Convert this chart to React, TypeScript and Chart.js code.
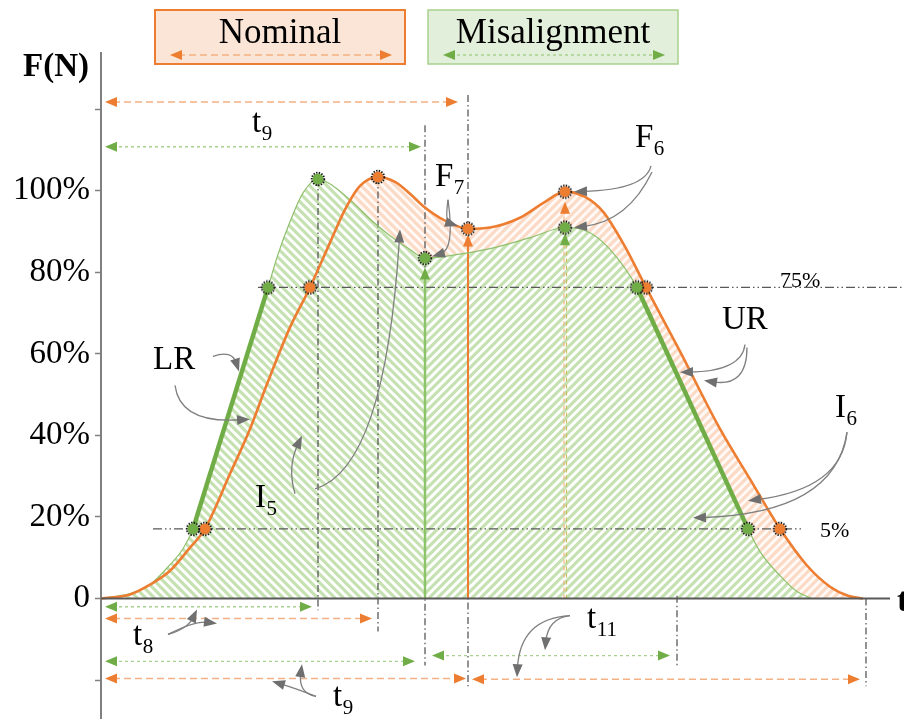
import React, { useEffect, useRef } from 'react';
import { Chart, registerables } from 'chart.js';

Chart.register(...registerables);

const SERIF = '"Liberation Serif", "Times New Roman", Times, serif';

// ---------------- data ----------------
const seriesNames = ['Nominal', 'Misalignment'];

// Nominal force curve: time (ms, arbitrary) and force (% of max)
const nominalTime = [0, 29, 49, 69, 89, 104, 129, 149, 166, 189, 209, 229, 244, 259, 277, 294, 309, 322, 344, 367, 389, 419, 444, 464, 484, 502, 524, 545, 579, 619, 649, 679, 706, 729, 747, 762];
const nominalForce = [0, 1.0, 3.4, 6.8, 12.5, 17.1, 30.6, 41.6, 52.6, 66.5, 76.3, 87.3, 95.4, 101.2, 103.4, 102.2, 99.3, 96.3, 92.7, 90.7, 91.0, 93.4, 97.3, 99.8, 98.5, 94.9, 86.3, 76.3, 60.6, 41.6, 29.3, 17.1, 8.1, 2.9, 0.7, 0];

// Misalignment force curve
const misTime = [0, 29, 49, 69, 82, 92, 129.5, 167, 177, 189, 202, 217, 232, 252, 272, 289, 309, 324, 349, 389, 429, 464, 489, 512, 536, 591.5, 647, 659, 679, 696, 711];
const misForce = [0, 1.2, 3.4, 8.3, 12.2, 17.1, 46.7, 76.3, 84.4, 92.4, 99.5, 102.9, 101.2, 97.1, 92.4, 89.0, 85.6, 83.5, 84.1, 85.8, 88.5, 91.0, 89.7, 84.8, 76.3, 46.7, 17.1, 11.5, 5.6, 1.7, 0];

// characteristic points
const nomPointTime = [104, 209, 277, 367, 464, 545, 679];
const nomPointForce = [17.1, 76.3, 103.4, 90.7, 99.8, 76.3, 17.1];
const misPointTime = [92, 167, 217, 324, 464, 536, 647];
const misPointForce = [17.1, 76.3, 102.9, 83.5, 91.0, 76.3, 17.1];

// loading ramp (LR) and unloading ramp (UR) of the misalignment curve
const lrTime = [92, 167];
const lrForce = [17.1, 76.3];
const urTime = [536, 647];
const urForce = [76.3, 17.1];

// hatch direction change (time)
const misHatchSplit = 324;
const nomHatchSplit = 367;

// y axis
const yTickValues = [0, 20, 40, 60, 80, 100];
const yTickLabels = ['0', '20%', '40%', '60%', '80%', '100%'];

// guide lines (dash-dot verticals): time, top, bottom (%)
const guideT = [217, 277, 324, 367, 576, 765];
const guideTop = [102.9, 103.4, 116.1, 123.5, 0.7, 0];
const guideBottom = [-2.9, -8.1, -16.4, -21.5, -16.6, -21.5];

// level lines: value, start time, end time, label
const levelValue = [76.3, 17.1];
const levelFrom = [157, 52];
const levelTo = [803, 702];
const levelLabel = ['75%', '5%'];
const levelLabelT = [679, 719];
const levelLabelV = [76.5, 15.2];

// dimension arrows: series (0 nominal, 1 misalignment), from, to, level
const dimSeries = [0, 1, 1, 0, 1, 0, 1, 0];
const dimFrom = [4, 4, 4, 4, 4, 4, 331, 371];
const dimTo = [357, 320, 211, 271, 314, 365, 569, 759];
const dimLevel = [121.8, 110.8, -2.0, -4.9, -15.4, -19.6, -14.0, -19.8];

// labels with subscripts
const labelMain = ['t', 'F', 'F', 'LR', 'UR', 'I', 'I', 't', 't', 't'];
const labelSub = ['9', '7', '6', '', '', '6', '5', '8', '9', '11'];
const labelT = [151, 334, 534, 52, 621, 734, 154, 32, 232, 486];
const labelV = [114.4, 101.2, 110.8, 56.2, 66.0, 44.5, 22.5, -11.5, -26.4, -7.3];

// curved call-out arrows: [startT, startV, ctrlT, ctrlV, endT, endV]
const callouts: number[][] = [
  [112, 59.4, 131, 61.0, 138, 55.7],
  [74, 52.3, 79, 42.8, 149, 44.0],
  [194, 25.7, 186, 32.3, 201, 39.9],
  [214, 26.9, 284, 31.8, 299, 90.5],
  [347, 97.8, 354, 85.6, 331, 83.9],
  [347, 97.8, 344, 92.4, 357, 91.4],
  [550, 106.1, 544, 100.2, 473, 99.8],
  [551, 104.6, 527, 92.4, 473, 91.0],
  [644, 62.3, 641, 55.7, 579, 55.5],
  [646, 61.6, 646, 51.8, 603, 53.5],
  [746, 40.8, 741, 26.9, 647, 24.0],
  [746, 40.8, 734, 20.8, 592, 19.8],
  [67, -8.8, 87, -7.3, 96, -2.7],
  [67, -8.8, 94, -5.4, 116, -6.1],
  [215, -24.0, 197, -23.2, 201, -16.1],
  [215, -24.0, 194, -22.0, 171, -20.3],
  [469, -4.2, 447, -4.9, 444, -12.7],
  [469, -4.2, 419, -4.9, 416, -19.3],
];

// ---------------- styles ----------------
const ORANGE = '#ed7d31';
const ORANGE_LIGHT = '#f4b183';
const GREEN = '#70ad47';
const GREEN_LIGHT = '#a9d18e';
const GRAY = '#595959';
const ARROW_GRAY = '#7f7f7f';

const patternCache = new Map<string, CanvasPattern | string>();
function hatch(chart: any, splitT: number, bg: string, stripe: string): CanvasPattern | string {
  const xs = chart && chart.scales && chart.scales.x;
  let split = xs ? xs.getPixelForValue(splitT) : NaN;
  if (!isFinite(split)) return bg;
  const w = chart.width, h = chart.height;
  const key = `${Math.round(split)}|${bg}|${stripe}|${w}x${h}`;
  const hit = patternCache.get(key);
  if (hit) return hit;
  const c = document.createElement('canvas');
  c.width = w; c.height = h;
  const g = c.getContext('2d')!;
  g.fillStyle = bg;
  g.fillRect(0, 0, w, h);
  g.strokeStyle = stripe;
  g.lineWidth = 3.2;
  const P = 8.6;
  g.save();
  g.beginPath(); g.rect(0, 0, split, h); g.clip();
  for (let k = -250; k < 250; k++) {
    const c0 = split + k * P;
    g.beginPath(); g.moveTo(c0, 0); g.lineTo(c0 + h, h); g.stroke();
  }
  g.restore();
  g.save();
  g.beginPath(); g.rect(split, 0, w - split, h); g.clip();
  for (let k = -250; k < 250; k++) {
    const c0 = split + k * P;
    g.beginPath(); g.moveTo(c0, 0); g.lineTo(c0 - h, h); g.stroke();
  }
  g.restore();
  const p = g.createPattern(c, 'no-repeat');
  const res = p || bg;
  patternCache.set(key, res);
  return res;
}

function makePointImage(color: string) {
  const c = document.createElement('canvas');
  c.width = 16; c.height = 16;
  const g = c.getContext('2d')!;
  g.beginPath(); g.arc(8, 8, 5.6, 0, Math.PI * 2); g.fillStyle = color; g.fill();
  g.setLineDash([1.4, 1.3]); g.lineWidth = 1.8; g.strokeStyle = '#111';
  g.beginPath(); g.arc(8, 8, 6.3, 0, Math.PI * 2); g.stroke();
  return c;
}

function head(ctx: CanvasRenderingContext2D, x: number, y: number, ang: number, len: number, wid: number, color: string) {
  ctx.save();
  ctx.translate(x, y);
  ctx.rotate(ang);
  ctx.beginPath();
  ctx.moveTo(0, 0);
  ctx.lineTo(-len, wid / 2);
  ctx.lineTo(-len, -wid / 2);
  ctx.closePath();
  ctx.fillStyle = color;
  ctx.fill();
  ctx.restore();
}

function dimArrow(ctx: CanvasRenderingContext2D, x1: number, x2: number, y: number, series: number) {
  const line = series === 0 ? ORANGE_LIGHT : GREEN_LIGHT;
  const hd = series === 0 ? ORANGE : GREEN;
  ctx.save();
  ctx.strokeStyle = line;
  ctx.lineWidth = 1.4;
  ctx.setLineDash(series === 0 ? [7, 4] : [3, 3]);
  ctx.beginPath(); ctx.moveTo(x1 + 8, y); ctx.lineTo(x2 - 8, y); ctx.stroke();
  ctx.restore();
  head(ctx, x1, y, Math.PI, 12, 10, hd);
  head(ctx, x2, y, 0, 12, 10, hd);
}

function subText(ctx: CanvasRenderingContext2D, main: string, sub: string, x: number, y: number, size = 33) {
  ctx.save();
  ctx.fillStyle = '#000';
  ctx.textAlign = 'left';
  ctx.textBaseline = 'alphabetic';
  ctx.font = `${size}px ${SERIF}`;
  ctx.fillText(main, x, y);
  const w = ctx.measureText(main).width;
  if (sub) {
    ctx.font = `${Math.round(size * 0.64)}px ${SERIF}`;
    ctx.fillText(sub, x + w + 0.5, y + 8);
  }
  ctx.restore();
}

const annotPlugin = {
  id: 'forceAnnotations',
  beforeDatasetsDraw(chart: any) {
    const ctx: CanvasRenderingContext2D = chart.ctx;
    const X = (t: number) => chart.scales.x.getPixelForValue(t);
    const Y = (v: number) => chart.scales.y.getPixelForValue(v);
    ctx.save();
    // dash-dot verticals
    ctx.strokeStyle = GRAY;
    ctx.lineWidth = 1.3;
    ctx.setLineDash([7, 3, 1.5, 3]);
    guideT.forEach((t, i) => {
      ctx.beginPath(); ctx.moveTo(X(t), Y(guideTop[i])); ctx.lineTo(X(t), Y(guideBottom[i])); ctx.stroke();
    });
    // level lines (dash-dot-dot)
    ctx.setLineDash([9, 3, 1.5, 3, 1.5, 3]);
    levelValue.forEach((v, i) => {
      ctx.beginPath(); ctx.moveTo(X(levelFrom[i]), Y(v)); ctx.lineTo(X(levelTo[i]), Y(v)); ctx.stroke();
    });
    ctx.setLineDash([]);
    // vertical arrows marking F7
    const gx = X(misPointTime[3]);
    const gTip = Y(misPointForce[3] - 2.3);
    ctx.strokeStyle = '#8cc46a'; ctx.lineWidth = 2.5;
    ctx.beginPath(); ctx.moveTo(gx, Y(0)); ctx.lineTo(gx, gTip + 10); ctx.stroke();
    head(ctx, gx, gTip, -Math.PI / 2, 12, 10, GREEN);
    const ox = X(nomPointTime[3]);
    const oTip = Y(nomPointForce[3] - 1.4);
    ctx.strokeStyle = ORANGE; ctx.lineWidth = 2;
    ctx.beginPath(); ctx.moveTo(ox, Y(0)); ctx.lineTo(ox, oTip + 10); ctx.stroke();
    head(ctx, ox, oTip, -Math.PI / 2, 12, 10, ORANGE);
    // dashed arrows marking F6
    const fx = X(nomPointTime[4]);
    const foTip = Y(nomPointForce[4] - 2.5);
    const fgTip = Y(misPointForce[4] - 1.4);
    ctx.lineWidth = 1.2;
    ctx.setLineDash([4, 3]);
    ctx.strokeStyle = ORANGE_LIGHT;
    ctx.beginPath(); ctx.moveTo(fx - 1, Y(0)); ctx.lineTo(fx - 1, foTip + 10); ctx.stroke();
    ctx.strokeStyle = '#c8c060';
    ctx.beginPath(); ctx.moveTo(fx + 1.5, Y(0)); ctx.lineTo(fx + 1.5, fgTip + 10); ctx.stroke();
    ctx.setLineDash([]);
    head(ctx, fx, foTip, -Math.PI / 2, 12, 10, ORANGE);
    head(ctx, fx, fgTip, -Math.PI / 2, 12, 10, GREEN);
    ctx.restore();
  },
  afterDatasetsDraw(chart: any) {
    const ctx: CanvasRenderingContext2D = chart.ctx;
    const X = (t: number) => chart.scales.x.getPixelForValue(t);
    const Y = (v: number) => chart.scales.y.getPixelForValue(v);
    const area = chart.chartArea;
    ctx.save();
    // t axis line
    ctx.strokeStyle = GRAY;
    ctx.lineWidth = 2;
    ctx.beginPath(); ctx.moveTo(area.left, Y(0)); ctx.lineTo(area.right, Y(0)); ctx.stroke();
    // dimension arrows
    dimFrom.forEach((f, i) => dimArrow(ctx, X(f), X(dimTo[i]), Y(dimLevel[i]), dimSeries[i]));
    // call-out arrows
    ctx.strokeStyle = ARROW_GRAY;
    ctx.lineWidth = 1.3;
    callouts.forEach((c) => {
      const sx = X(c[0]), sy = Y(c[1]), cx = X(c[2]), cy = Y(c[3]), ex = X(c[4]), ey = Y(c[5]);
      const ang = Math.atan2(ey - cy, ex - cx);
      const bx = ex - Math.cos(ang) * 9, by = ey - Math.sin(ang) * 9;
      ctx.beginPath(); ctx.moveTo(sx, sy); ctx.quadraticCurveTo(cx, cy, bx, by); ctx.stroke();
      head(ctx, ex, ey, ang, 13, 10, '#6f6f6f');
    });
    // labels
    labelMain.forEach((m, i) => subText(ctx, m, labelSub[i], X(labelT[i]), Y(labelV[i])));
    // level labels
    ctx.fillStyle = '#000';
    ctx.font = `22px ${SERIF}`;
    ctx.textAlign = 'left';
    ctx.textBaseline = 'alphabetic';
    levelLabel.forEach((s, i) => ctx.fillText(s, X(levelLabelT[i]), Y(levelLabelV[i])));
    // t axis title
    ctx.font = `bold 34px ${SERIF}`;
    ctx.fillText('t', area.right + 7, Y(0) + 12);
    ctx.restore();
  },
  afterDraw(chart: any) {
    const ctx: CanvasRenderingContext2D = chart.ctx;
    ctx.save();
    // F(N) axis title
    ctx.fillStyle = '#000';
    ctx.font = `bold 33px ${SERIF}`;
    ctx.textAlign = 'left';
    ctx.textBaseline = 'alphabetic';
    ctx.fillText('F(N)', 23, 76);
    // legend boxes
    const boxes = [
      { x: 155, fill: '#fbe5d6', stroke: ORANGE, lw: 2 },
      { x: 428, fill: '#e2efda', stroke: GREEN_LIGHT, lw: 1.5 },
    ];
    boxes.forEach((b, i) => {
      ctx.fillStyle = b.fill;
      ctx.fillRect(b.x, 10, 250, 54);
      ctx.strokeStyle = b.stroke;
      ctx.lineWidth = b.lw;
      ctx.strokeRect(b.x, 10, 250, 54);
      ctx.fillStyle = '#000';
      ctx.font = `35px ${SERIF}`;
      ctx.textAlign = 'center';
      ctx.fillText(seriesNames[i], b.x + 125, 43);
      dimArrow(ctx, b.x + 15, b.x + 237, 55, i);
    });
    ctx.restore();
  },
};

export default function App() {
  const ref = useRef<HTMLCanvasElement>(null);
  useEffect(() => {
    document.body.style.margin = '0';
    document.body.style.overflow = 'hidden';
    const canvas = ref.current!;
    const greenImg = makePointImage(GREEN);
    const orangeImg = makePointImage(ORANGE);
    const xy = (ts: number[], vs: number[]) => ts.map((t, i) => ({ x: t, y: vs[i] }));

    const chart = new Chart(canvas, {
      type: 'line',
      data: {
        datasets: [
          { label: 'Misalignment points', data: xy(misPointTime, misPointForce), showLine: false, pointStyle: greenImg as any, pointRadius: 6, borderWidth: 0, fill: false },
          { label: 'Nominal points', data: xy(nomPointTime, nomPointForce), showLine: false, pointStyle: orangeImg as any, pointRadius: 6, borderWidth: 0, fill: false },
          { label: 'LR', data: xy(lrTime, lrForce), borderColor: GREEN, borderWidth: 4.5, pointRadius: 0, tension: 0, fill: false },
          { label: 'UR', data: xy(urTime, urForce), borderColor: GREEN, borderWidth: 4.5, pointRadius: 0, tension: 0, fill: false },
          { label: seriesNames[0], data: xy(nominalTime, nominalForce), borderColor: ORANGE, borderWidth: 2.6, pointRadius: 0, cubicInterpolationMode: 'monotone', fill: false },
          { label: seriesNames[1], data: xy(misTime, misForce), borderColor: '#8fc06c', borderWidth: 1.2, pointRadius: 0, cubicInterpolationMode: 'monotone', fill: false },
          {
            label: 'Misalignment area', data: xy(misTime, misForce), borderWidth: 0, borderColor: 'rgba(0,0,0,0)', pointRadius: 0,
            cubicInterpolationMode: 'monotone', fill: 'origin',
            backgroundColor: (c: any) => hatch(c.chart, misHatchSplit, '#ffffff', '#c6e1b2'),
          },
          {
            label: 'Nominal area', data: xy(nominalTime, nominalForce), borderWidth: 0, borderColor: 'rgba(0,0,0,0)', pointRadius: 0,
            cubicInterpolationMode: 'monotone', fill: 'origin',
            backgroundColor: (c: any) => hatch(c.chart, nomHatchSplit, '#fffaf7', '#fbdac6'),
          },
        ] as any,
      },
      options: {
        animation: false,
        responsive: false,
        events: [],
        layout: { padding: { top: 53, right: 14, bottom: 4, left: 0 } },
        plugins: {
          legend: { display: false },
          tooltip: { enabled: false },
          filler: { drawTime: 'beforeDatasetsDraw' },
        } as any,
        scales: {
          x: { type: 'linear', min: 0, max: 789, display: false },
          y: {
            type: 'linear',
            min: -29.3,
            max: 133.8,
            afterFit: (s: any) => { s.width = 101; s.paddingTop = 0; s.paddingBottom = 0; },
            ticks: {
              stepSize: 20,
              includeBounds: false,
              autoSkip: false,
              padding: 5,
              color: '#000',
              font: { family: SERIF, size: 33 },
              callback: (v: any) => {
                const i = yTickValues.indexOf(Number(v));
                return i >= 0 ? yTickLabels[i] : '';
              },
            },
            grid: { drawOnChartArea: false, tickLength: 6, color: '#808080', tickWidth: 1.5 },
            border: { display: true, color: '#808080', width: 2 },
          },
        },
      } as any,
      plugins: [annotPlugin as any],
    });
    return () => chart.destroy();
  }, []);

  return (
    <div style={{ width: 904, height: 724 }}>
      <canvas ref={ref} width={904} height={724} style={{ display: 'block' }} />
    </div>
  );
}
